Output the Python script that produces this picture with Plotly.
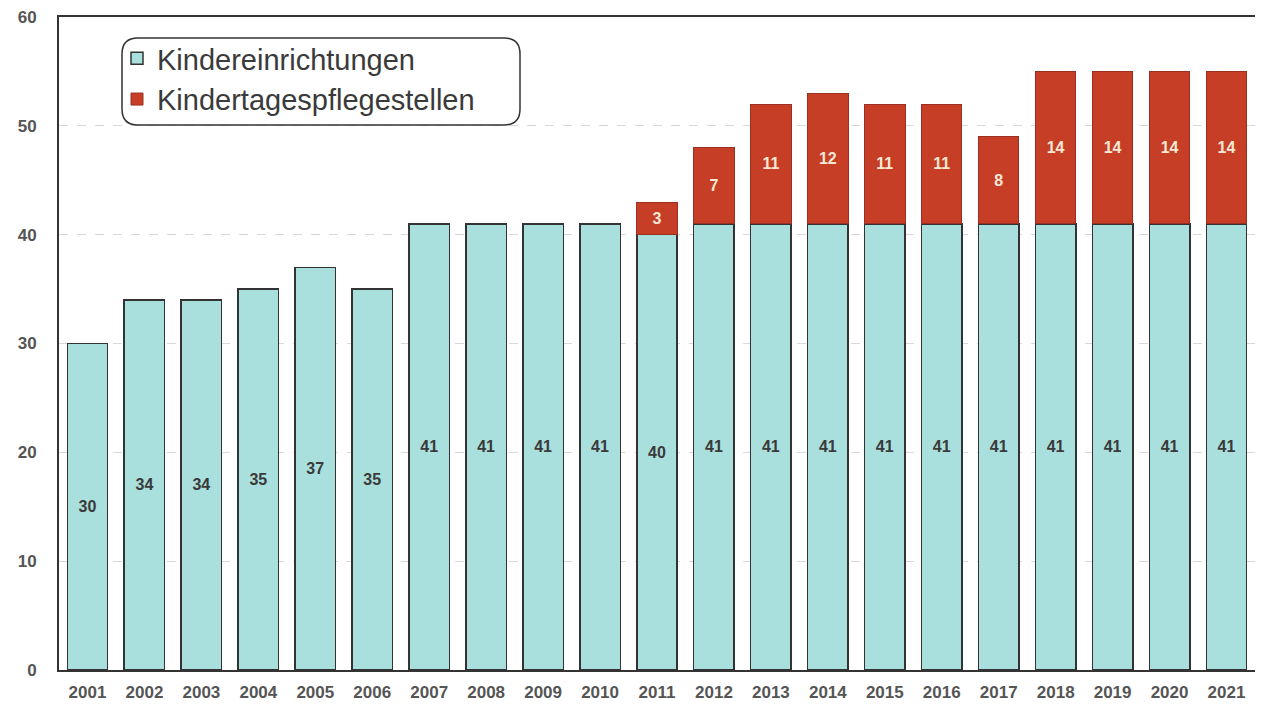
import plotly.graph_objects as go

years = [str(y) for y in range(2001, 2022)]
kinder = [30, 34, 34, 35, 37, 35, 41, 41, 41, 41, 40, 41, 41, 41, 41, 41, 41, 41, 41, 41, 41]
pflege = [None]*10 + [3, 7, 11, 12, 11, 11, 8, 14, 14, 14, 14]
yticks = [0, 10, 20, 30, 40, 50, 60]

FONT = "Arial, Liberation Sans, sans-serif"

fig = go.Figure()
fig.add_trace(go.Bar(
    x=years, y=kinder, name="Kindereinrichtungen", legendgroup="a",
    marker=dict(color="#A9E0DE", line=dict(color="#333333", width=1.5)),
    text=[str(v) for v in kinder], textposition="inside", insidetextanchor="middle",
    textfont=dict(family=FONT, size=16, color="#3a3a3a", weight="bold"),
    textangle=0,
))
fig.add_trace(go.Bar(
    x=years, y=pflege, name="Kindertagespflegestellen", legendgroup="b",
    marker=dict(color="#C63E25", line=dict(color="#9a3020", width=1)),
    text=[str(v) if v else "" for v in pflege], textposition="inside", insidetextanchor="middle",
    textfont=dict(family=FONT, size=16, color="#F6E8D4", weight="bold"),
    textangle=0,
))

# page offset of the rendered figure (body margin)
OFF = 8
# target plot-area edges on screen
SL, SR, ST, SB = 59, 1255, 17, 670
W, H = 1263, 713
pw, ph = SR - SL, SB - ST

def px(x): return (x - SL) / pw
def py(y): return 1 - (y - ST) / ph

x0, x1, y0, y1 = px(122), px(520), py(125), py(38)
rx, ry = 16 / pw, 16 / ph
path = (f"M {x0+rx},{y1} L {x1-rx},{y1} Q {x1},{y1} {x1},{y1-ry} "
        f"L {x1},{y0+ry} Q {x1},{y0} {x1-rx},{y0} L {x0+rx},{y0} "
        f"Q {x0},{y0} {x0},{y0+ry} L {x0},{y1-ry} Q {x0},{y1} {x0+rx},{y1} Z")

fig.update_layout(
    barmode="stack", bargap=0.29,
    width=W, height=H,
    margin=dict(l=SL - OFF, r=W + OFF - SR, t=ST - OFF, b=H + OFF - SB, autoexpand=False),
    paper_bgcolor="white", plot_bgcolor="white",
    font=dict(family=FONT, color="#555555"),
    legend=dict(x=px(117), y=py(33), xanchor="left", yanchor="top",
                traceorder="normal", tracegroupgap=17,
                bgcolor="rgba(0,0,0,0)", borderwidth=0,
                font=dict(size=29, color="#3a3a3a", family=FONT)),
    shapes=[dict(type="path", path=path, xref="paper", yref="paper",
                 line=dict(color="#333333", width=1.5), fillcolor="rgba(0,0,0,0)")],
    xaxis=dict(showline=True, linecolor="#333333", linewidth=2, mirror=True,
               tickfont=dict(size=17, color="#555555", family=FONT, weight="bold"),
               ticks="", showgrid=False, automargin=False, ticklabelstandoff=6,
               ticklabeloverflow="allow"),
    yaxis=dict(range=[0, 60], tickvals=yticks, showline=True, linecolor="#333333",
               linewidth=2, mirror=True, showgrid=True, gridcolor="#d8d8d8",
               griddash="dash", gridwidth=1, ticks="", ticklabelstandoff=17,
               ticklabeloverflow="allow",
               tickfont=dict(size=17, color="#555555", family=FONT, weight="bold"),
               zeroline=False, automargin=False),
)

fig.write_html("out.html")
